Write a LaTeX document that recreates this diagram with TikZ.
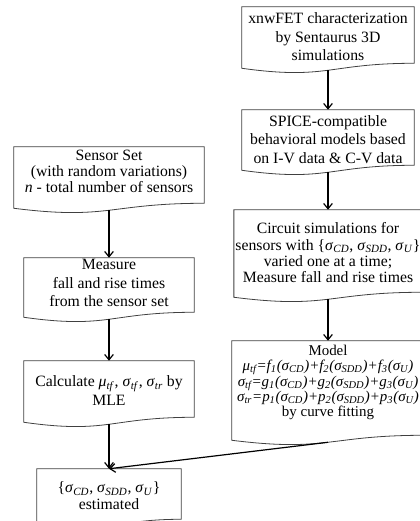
\documentclass[tikz,border=0pt]{standalone}
\usepackage{fontspec}
\setmainfont{Liberation Serif}
\usetikzlibrary{arrows.meta}
\usepackage{xcolor}

\newcommand\sgm[1]{\textit{σ}\textsubscript{\textit{#1}}}
\newcommand\mutf{\textit{μ}\textsubscript{\textit{tf}}}
% outline of a flowchart "document" box around a node
\newcommand\docline[1]{%
  \draw[docedge] (#1.north west) -- (#1.north east)
    -- ([yshift=5.25pt]#1.south east)
    .. controls ([yshift=5.25pt]#1.south) and ([yshift=-7.5pt]#1.south)
    .. ([yshift=1.5pt]#1.south west) -- cycle;}

\begin{document}
\begin{tikzpicture}[x=0.75pt, y=-0.75pt,
  doc/.style={rectangle, draw=none, inner sep=1pt, align=center,
    font=\fontsize{11.8}{13.8}\selectfont, text depth=2.5pt},
  docedge/.style={draw=black!75, line width=0.6pt},
  flow/.style={-{Straight Barb[length=4pt,width=6.5pt]}, line width=0.9pt}]
  \useasboundingbox (0,0) rectangle (420,521);
  \clip (0,0) rectangle (420,521);

  % right column
  \node[doc, minimum width=129pt, minimum height=47.25pt] (char) at (328,38.5)
    {xnwFET characterization\\by Sentaurus 3D\\simulations};
  \node[doc, minimum width=129pt, minimum height=46.5pt] (spice) at (328,141)
    {SPICE-compatible\\behavioral models based\\on I-V data \& C-V data};
  \node[doc, minimum width=136.5pt, minimum height=66.75pt,
    font=\fontsize{11.8}{12.2}\selectfont] (circ) at (328,254.5)
    {Circuit simulations for\\sensors with \{\sgm{CD}, \sgm{SDD}, \sgm{U}\}\\varied one at a time;\\Measure fall and rise times};
  \node[doc, minimum width=144pt, minimum height=75.75pt, text depth=16pt,
    font=\fontsize{11.2}{11.6}\selectfont] (model) at (328,391.5)
    {Model\\
     {\itshape μ\textsubscript{tf}=f\textsubscript{1}(σ\textsubscript{CD})+f\textsubscript{2}(σ\textsubscript{SDD})+f\textsubscript{3}(σ\textsubscript{U})}\\
     {\itshape σ\textsubscript{tf}=g\textsubscript{1}(σ\textsubscript{CD})+g\textsubscript{2}(σ\textsubscript{SDD})+g\textsubscript{3}(σ\textsubscript{U})}\\
     {\itshape σ\textsubscript{tr}=p\textsubscript{1}(σ\textsubscript{CD})+p\textsubscript{2}(σ\textsubscript{SDD})+p\textsubscript{3}(σ\textsubscript{U})}\\
     by curve fitting};

  % left column
  \node[doc, minimum width=142.5pt, minimum height=47.25pt, text depth=11pt,
    font=\fontsize{11.8}{12}\selectfont] (sens) at (109,178.5)
    {Sensor Set\\(with random variations)\\\textit{n} - total number of sensors};
  \node[doc, minimum width=127.5pt, minimum height=45.75pt, text depth=8pt] (meas) at (109,288.5)
    {Measure\\fall and rise times\\from the sensor set};
  \node[doc, minimum width=127.5pt, minimum height=47.25pt,
    font=\fontsize{11.8}{14.2}\selectfont] (calc) at (109,392.5)
    {Calculate \mutf, \sgm{tf}, \sgm{tr} by\\MLE};
  \node[doc, minimum width=108pt, minimum height=42.75pt,
    font=\fontsize{11.8}{12.8}\selectfont] (final) at (109,497.5)
    {\{\sgm{CD}, \sgm{SDD}, \sgm{U}\}\\estimated};

  \foreach \b in {char,spice,circ,model,sens,meas,calc,final}
    \docline{\b};

  \draw[flow] (char.south) -- (spice.north);
  \draw[flow] (spice.south) -- (circ.north);
  \draw[flow] (circ.south) -- (model.north);
  \draw[flow] (sens.south) -- (meas.north);
  \draw[flow] (meas.south) -- (calc.north);
  \draw[flow] (calc.south) -- (final.north);
  \draw[flow] (model.south) -- (final.north);
\end{tikzpicture}
\end{document}
